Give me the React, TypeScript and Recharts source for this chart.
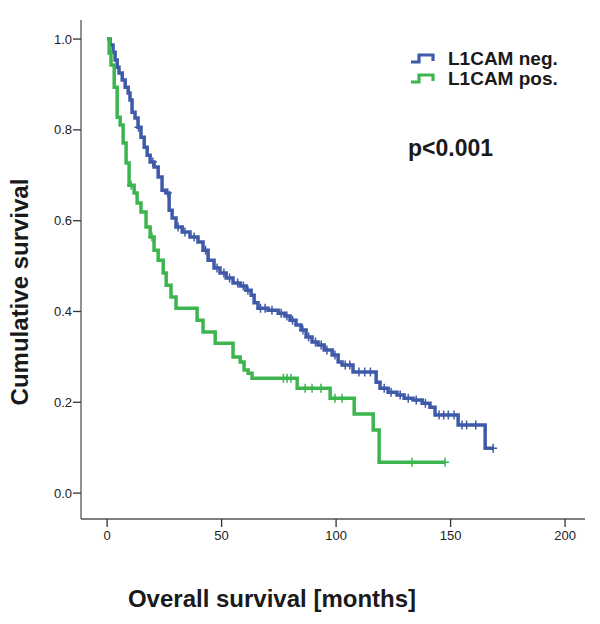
import { ComposedChart, Legend, Line, Scatter, XAxis, YAxis } from 'recharts'

// Kaplan-Meier steps (time in months, cumulative survival)
const NEG_TIME = [
  0, 1.3, 2.6, 3.5, 4.4, 5.2, 6.6, 7.9, 9.2, 10.0, 10.9, 12.2, 13.5, 14.8, 16.2, 17.5, 18.8,
  20.5, 22.3, 24.0, 25.8, 27.1, 28.4, 30.1, 32.8, 36.2, 39.7, 41.9, 44.1, 46.7, 49.3, 52.0,
  55.0, 58.1, 60.7, 62.9, 64.2, 65.9, 70.3, 74.7, 77.7, 79.9, 82.5, 84.7, 86.9, 89.5, 92.1,
  94.8, 98.3, 100.9, 102.6, 107.4, 117.5, 119.2, 122.7, 126.6, 129.7, 133.6, 137.6, 141.0,
  143.2, 153.3, 165.1, 168.6,
]
const NEG_SURV = [
  1.0, 0.987, 0.971, 0.954, 0.938, 0.925, 0.91, 0.894, 0.881, 0.866, 0.839, 0.826, 0.806, 0.784,
  0.762, 0.744, 0.729, 0.718, 0.696, 0.667, 0.661, 0.623, 0.606, 0.586, 0.575, 0.564, 0.553,
  0.535, 0.513, 0.496, 0.485, 0.474, 0.463, 0.456, 0.447, 0.436, 0.419, 0.407, 0.403, 0.396,
  0.39, 0.381, 0.37, 0.359, 0.344, 0.333, 0.326, 0.315, 0.304, 0.289, 0.282, 0.267, 0.244,
  0.231, 0.222, 0.216, 0.209, 0.205, 0.198, 0.189, 0.172, 0.15, 0.099, 0.099,
]
const NEG_CENSORED = [
  13.7, 20, 26.5, 31, 34, 38, 43, 48, 51, 53.5, 57, 59.5, 61.5, 67, 69, 72, 76, 78.5, 81, 85.5,
  88, 91, 93.5, 96, 99.5, 104, 106, 110, 112.5, 115, 121, 124, 128, 131.5, 135, 139, 145, 147,
  149, 151.5, 155, 157, 161, 168.6,
]

const POS_TIME = [
  0, 0.9, 1.7, 3.1, 4.4, 5.7, 7.0, 8.3, 9.6, 11.8, 13.1, 14.8, 17.0, 18.8, 20.5, 22.3, 24.5,
  25.8, 27.9, 30.1, 39.3, 41.9, 47.2, 55.0, 58.1, 59.8, 61.6, 63.3, 83.0, 97.4, 107.9, 116.2,
  118.8, 147.6,
]
const POS_SURV = [
  1.0, 0.969, 0.943, 0.894, 0.828, 0.811, 0.771, 0.727, 0.678, 0.661, 0.639, 0.619, 0.586, 0.564,
  0.535, 0.513, 0.485, 0.458, 0.432, 0.407, 0.381, 0.355, 0.33, 0.3, 0.289, 0.271, 0.264, 0.253,
  0.231, 0.209, 0.174, 0.139, 0.068, 0.068,
]
const POS_CENSORED = [10.5, 19.6, 77, 78.6, 80.3, 86.5, 89.5, 93.4, 99.5, 102.6, 133.2, 147.6]

const X_TICKS = [0, 50, 100, 150, 200]
const Y_TICKS = [0, 0.2, 0.4, 0.6, 0.8, 1.0]

const BLUE = '#3f5aa8'
const GREEN = '#3cb54f'
const FONT = '"Liberation Sans", Arial, sans-serif'

function toSteps(times: number[], surv: number[]) {
  return times.map((t, i) => ({ t, s: surv[i] }))
}

function survivalAt(times: number[], surv: number[], t: number) {
  let s = surv[0]
  for (let i = 0; i < times.length; i += 1) {
    if (times[i] <= t) s = surv[i]
  }
  return s
}

function toCensored(times: number[], surv: number[], censored: number[]) {
  return censored.map((t) => ({ t, s: survivalAt(times, surv, t) }))
}

const negSteps = toSteps(NEG_TIME, NEG_SURV)
const posSteps = toSteps(POS_TIME, POS_SURV)
const negCensored = toCensored(NEG_TIME, NEG_SURV, NEG_CENSORED)
const posCensored = toCensored(POS_TIME, POS_SURV, POS_CENSORED)

function CensorMark(props: any) {
  const { cx, cy, color } = props
  if (cx == null || cy == null) return null
  return (
    <path
      d={`M${cx - 4},${cy} H${cx + 4} M${cx},${cy - 4.5} V${cy + 4.5}`}
      stroke={color}
      strokeWidth={1.5}
      fill="none"
    />
  )
}

function StepLegend(props: any) {
  const items = (props.payload ?? []).filter((p: any) => p.type !== 'none')
  return (
    <div style={{ fontFamily: FONT }}>
      {items.map((item: any) => (
        <div key={item.value} style={{ display: 'flex', alignItems: 'center', height: 20 }}>
          <svg width={38} height={12} style={{ marginRight: 0 }}>
            <path d="M1,9 H9 V2 H23 V8" stroke={item.color} strokeWidth={3.2} fill="none" />
          </svg>
          <span style={{ fontSize: 19, fontWeight: 'bold', color: '#1a1a1a' }}>{item.value}</span>
        </div>
      ))}
    </div>
  )
}

export default function App() {
  return (
    <div style={{ position: 'absolute', left: 0, top: 0, width: 600, height: 624, background: '#fff' }}>
      <ComposedChart width={600} height={624} margin={{ top: 20, right: 15, left: 0, bottom: 0 }}>
        <XAxis
          dataKey="t"
          type="number"
          domain={[-11.4, 208.7]}
          ticks={X_TICKS}
          allowDataOverflow
          height={105}
          tickSize={8}
          tickMargin={4}
          axisLine={{ stroke: '#555', strokeWidth: 1.3 }}
          tickLine={{ stroke: '#333', strokeWidth: 1.3 }}
          tick={{ fill: '#222', fontSize: 13, fontFamily: FONT }}
        />
        <YAxis
          dataKey="s"
          type="number"
          domain={[-0.057, 1.042]}
          ticks={Y_TICKS}
          allowDataOverflow
          width={81}
          tickSize={8}
          tickMargin={1}
          tickFormatter={(v: number) => v.toFixed(1)}
          axisLine={{ stroke: '#555', strokeWidth: 1.3 }}
          tickLine={{ stroke: '#333', strokeWidth: 1.3 }}
          tick={{ fill: '#222', fontSize: 13, fontFamily: FONT }}
        />
        <Legend
          layout="vertical"
          align="center"
          verticalAlign="middle"
          wrapperStyle={{ left: 410, top: 49, width: 190 }}
          content={<StepLegend />}
        />
        <Line
          data={negSteps}
          dataKey="s"
          name="L1CAM neg."
          type="stepAfter"
          stroke={BLUE}
          strokeWidth={3.5}
          dot={false}
          activeDot={false}
          isAnimationActive={false}
        />
        <Line
          data={posSteps}
          dataKey="s"
          name="L1CAM pos."
          type="stepAfter"
          stroke={GREEN}
          strokeWidth={3.5}
          dot={false}
          activeDot={false}
          isAnimationActive={false}
        />
        <Scatter
          data={negCensored}
          dataKey="s"
          legendType="none"
          shape={(p: any) => <CensorMark {...p} color={BLUE} />}
          isAnimationActive={false}
        />
        <Scatter
          data={posCensored}
          dataKey="s"
          legendType="none"
          shape={(p: any) => <CensorMark {...p} color={GREEN} />}
          isAnimationActive={false}
        />
      </ComposedChart>
      <svg
        width={600}
        height={624}
        style={{ position: 'absolute', left: 0, top: 0, pointerEvents: 'none' }}
        fontFamily={FONT}
        fontWeight="bold"
        fill="#1a1a1a"
      >
        <text x={408} y={156} fontSize={23}>
          p&lt;0.001
        </text>
        <text x={272} y={607} fontSize={24} textAnchor="middle">
          Overall survival [months]
        </text>
        <text x={28} y={292} fontSize={24} textAnchor="middle" transform="rotate(-90 28 292)">
          Cumulative survival
        </text>
      </svg>
    </div>
  )
}
